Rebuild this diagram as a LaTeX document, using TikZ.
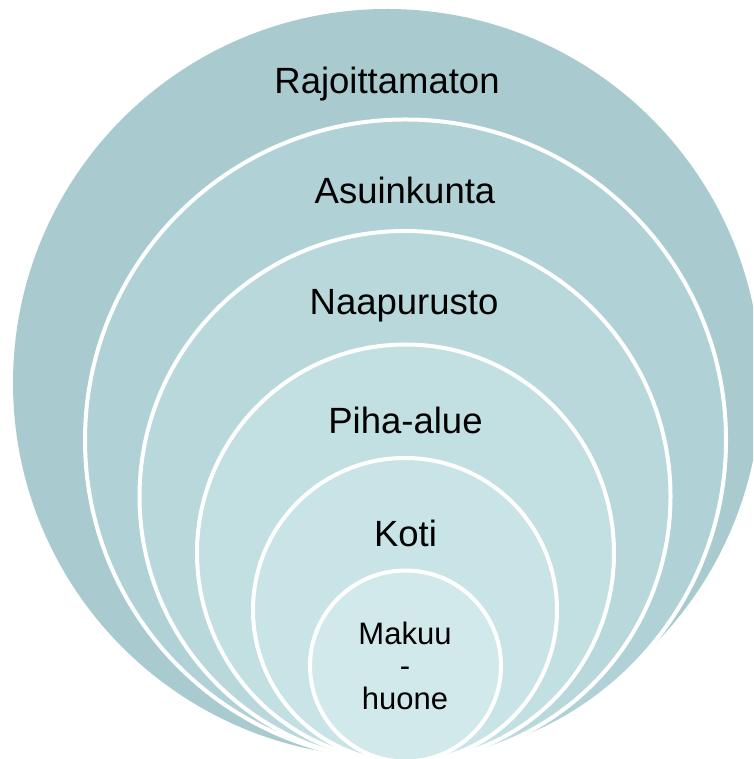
\documentclass[tikz,border=0pt]{standalone}
\usepackage{fontspec}
\setmainfont{Liberation Sans}
\definecolor{ringA}{RGB}{169,203,207}
\definecolor{ringB}{RGB}{176,209,213}
\definecolor{ringC}{RGB}{185,216,219}
\definecolor{ringD}{RGB}{194,223,226}
\definecolor{ringE}{RGB}{201,228,231}
\definecolor{ringF}{RGB}{210,233,236}
\begin{document}
\begin{tikzpicture}[x=1pt,y=1pt,
  ring/.style={circle, inner sep=0pt, outer sep=0pt, draw=white, line width=4pt},
  biglabel/.style={anchor=base, inner sep=0pt, font=\fontsize{36.5}{42}\selectfont},
  smalllabel/.style={anchor=base, inner sep=0pt, align=center, font=\fontsize{31}{32.5}\selectfont}]
\useasboundingbox (0,0) rectangle (753,759);
\clip (0,0) rectangle (753,759);
\node[circle, inner sep=0pt, outer sep=0pt, fill=ringA, minimum size=748pt] (r1) at (387,376) {};
\node[ring, fill=ringB, minimum size=641pt] (r2) at (405.5,319) {};
\node[ring, fill=ringC, minimum size=531pt] (r3) at (405,262.5) {};
\node[ring, fill=ringD, minimum size=417pt] (r4) at (405.5,206) {};
\node[ring, fill=ringE, minimum size=304pt] (r5) at (405,149) {};
\node[ring, fill=ringF, minimum size=191pt] (r6) at (405.5,93) {};
\node[biglabel] (t1) at (387,665) {Rajoittamaton};
\node[biglabel] (t2) at (405,555) {Asuinkunta};
\node[biglabel] (t3) at (404,444) {Naapurusto};
\node[biglabel] (t4) at (405.5,325.7) {Piha-alue};
\node[biglabel] (t5) at (405.5,212.3) {Koti};
\node[smalllabel] (t6) at (405,49.7) {Makuu\\-\\huone};
\end{tikzpicture}
\end{document}
